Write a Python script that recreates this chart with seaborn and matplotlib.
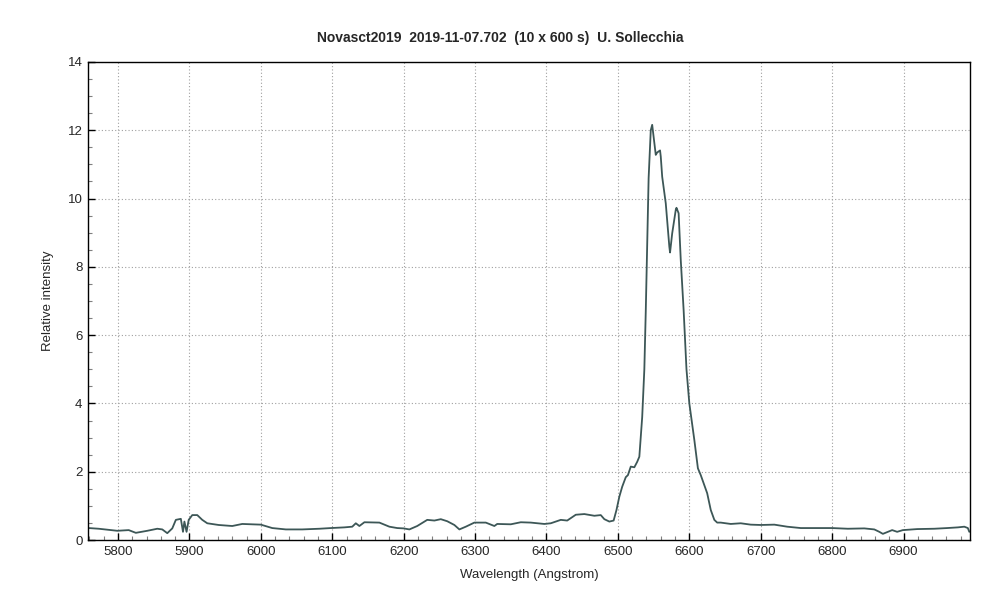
import matplotlib
matplotlib.use('Agg')
import matplotlib.pyplot as plt
import pandas as pd
import seaborn as sns
from matplotlib.ticker import MultipleLocator

# Spectrum values
wavelength = [5759, 5773, 5799, 5815, 5825, 5841, 5855, 5862, 5869, 5876,
              5881, 5888, 5891, 5893, 5896, 5899, 5904, 5911, 5918, 5925,
              5941, 5960, 5974, 5988, 6000, 6016, 6035, 6058, 6082, 6098,
              6117, 6128, 6133, 6138, 6145, 6166, 6180, 6191, 6200, 6208,
              6219, 6233, 6243, 6252, 6261, 6271, 6278, 6287, 6299, 6315,
              6327, 6331, 6350, 6364, 6378, 6397, 6406, 6420, 6429, 6441,
              6453, 6467, 6476, 6481, 6488, 6494, 6498, 6502, 6506, 6511,
              6514, 6518, 6523, 6527, 6530, 6532, 6534, 6537, 6539, 6543,
              6546, 6548, 6550, 6553, 6555, 6559, 6560, 6562, 6567, 6572,
              6573, 6576, 6581, 6582, 6585, 6588, 6592, 6596, 6600, 6607,
              6612, 6616, 6625, 6630, 6635, 6639, 6644, 6658, 6672, 6686,
              6700, 6719, 6737, 6756, 6780, 6800, 6822, 6845, 6859, 6866,
              6871, 6878, 6884, 6891, 6899, 6919, 6943, 6961, 6976, 6985,
              6990, 6992]
intensity = [0.35, 0.33, 0.27, 0.29, 0.21, 0.27, 0.33, 0.31, 0.20, 0.34,
             0.59, 0.62, 0.24, 0.54, 0.24, 0.59, 0.73, 0.73, 0.59, 0.49,
             0.44, 0.41, 0.47, 0.46, 0.45, 0.35, 0.31, 0.31, 0.33, 0.35,
             0.37, 0.39, 0.49, 0.41, 0.52, 0.51, 0.39, 0.35, 0.34, 0.31,
             0.41, 0.59, 0.57, 0.61, 0.55, 0.44, 0.31, 0.39, 0.51, 0.51,
             0.41, 0.47, 0.46, 0.52, 0.51, 0.47, 0.49, 0.59, 0.57, 0.74,
             0.76, 0.71, 0.73, 0.61, 0.54, 0.57, 0.88, 1.27, 1.56, 1.84,
             1.90, 2.15, 2.13, 2.29, 2.44, 3.03, 3.6, 5.0, 6.7, 10.6,
             12.0, 12.16, 11.81, 11.28, 11.35, 11.41, 11.23, 10.64, 9.86, 8.59,
             8.42, 8.98, 9.67, 9.73, 9.57, 8.2, 6.74, 5.0, 4.0, 2.93,
             2.10, 1.90, 1.37, 0.88, 0.59, 0.51, 0.51, 0.47, 0.49, 0.45,
             0.44, 0.45, 0.39, 0.35, 0.35, 0.35, 0.33, 0.34, 0.31, 0.24,
             0.18, 0.24, 0.29, 0.24, 0.29, 0.32, 0.33, 0.35, 0.37, 0.39,
             0.35, 0.24]

x_ticks = [5800, 5900, 6000, 6100, 6200, 6300, 6400, 6500, 6600, 6700, 6800, 6900]
y_ticks = [0, 2, 4, 6, 8, 10, 12, 14]

df = pd.DataFrame({'wavelength': wavelength, 'intensity': intensity})

sns.set_style('white')
plt.rcParams['font.family'] = ['Liberation Sans', 'DejaVu Sans']

fig = plt.figure(figsize=(10, 6.06), dpi=100)
ax = fig.add_axes([0.088, 0.1089, 0.882, 0.7888])

sns.lineplot(data=df, x='wavelength', y='intensity', ax=ax, color='#3d5757',
             linewidth=1.3, estimator=None, sort=False)

ax.set_xlim(5758, 6993)
ax.set_ylim(0, 14)
ax.set_xticks(x_ticks)
ax.set_yticks(y_ticks)
ax.xaxis.set_minor_locator(MultipleLocator(20))
ax.yaxis.set_minor_locator(MultipleLocator(0.5))

ax.grid(True, which='major', color='#a0a0a0', linestyle=(0, (1, 2)), linewidth=0.8)
ax.tick_params(which='major', direction='in', length=5, width=1, color='black',
               labelsize=9.5, pad=4)
ax.tick_params(which='minor', direction='in', length=3, width=0.8, color='#808080')
ax.tick_params(axis='x', which='both', bottom=True)
ax.tick_params(axis='y', which='both', left=True)
for s in ax.spines.values():
    s.set_color('black')
    s.set_linewidth(1)

ax.set_xlabel('Wavelength (Angstrom)', fontsize=9.5, labelpad=8)
ax.set_ylabel('Relative intensity', fontsize=9.5, labelpad=10)

fig.text(0.5, 0.937, 'Novasct2019  2019-11-07.702  (10 x 600 s)  U. Sollecchia',
         ha='center', va='center', fontsize=10, fontweight='bold',
         family=['Liberation Sans Narrow', 'Liberation Sans', 'DejaVu Sans'])

fig.savefig('out.png', dpi=100, facecolor='white')
